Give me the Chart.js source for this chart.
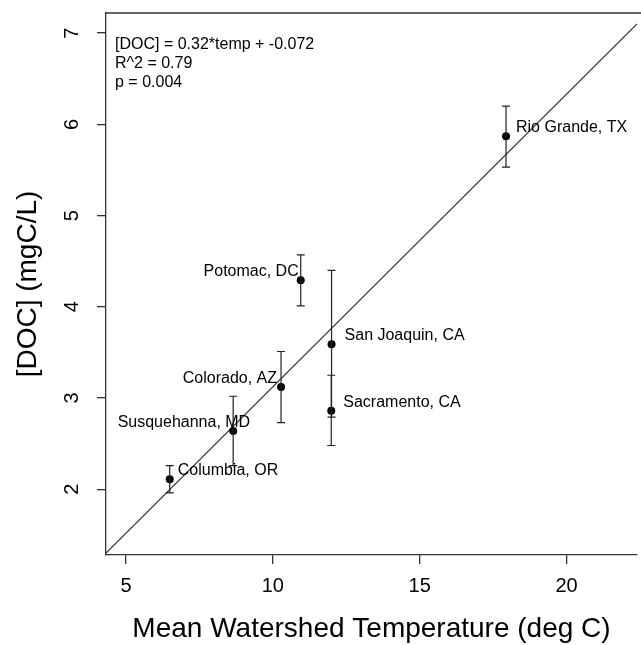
<!DOCTYPE html>
<html>
<head>
<meta charset="utf-8">
<script src="https://cdn.jsdelivr.net/npm/chart.js@4/dist/chart.umd.min.js"></script>
<style>
  html, body { margin: 0; padding: 0; background: #fff; overflow: hidden; }
  canvas { display: block; }
</style>
</head>
<body>
<canvas id="c" width="641" height="645"></canvas>
<script>
// rivers, values
const rivers = ["Columbia, OR", "Susquehanna, MD", "Colorado, AZ", "Potomac, DC",
                "San Joaquin, CA", "Sacramento, CA", "Rio Grande, TX"];
const temp   = [6.49, 8.65, 10.28, 10.95, 12.0, 11.99, 17.94];
const doc    = [2.11, 2.64, 3.12, 4.29, 3.59, 2.86, 5.87];
const docLow  = [1.96, 2.26, 2.73, 4.01, 2.79, 2.48, 5.53];
const docHigh = [2.26, 3.02, 3.51, 4.57, 4.40, 3.25, 6.20];

// regression line end points (clipped to plot area)
const fitX = [4.32, 22.4];
const fitY = [1.30, 7.10];

const xTicks = [5, 10, 15, 20];
const yTicks = [2, 3, 4, 5, 6, 7];

const statsText = ["[DOC] = 0.32*temp + -0.072", "R^2 = 0.79", "p = 0.004"];

// label placement: side and horizontal offset (px)
const labelSide = ["right", "left", "left", "left", "right", "right", "right"];
const labelDx   = [8, 17, -4, -2, 13, 12, 10];

const FONT = '"Liberation Sans", Arial, Helvetica, sans-serif';
Chart.defaults.font.family = FONT;
Chart.defaults.color = "#000";

const axisColor = "#333";

const extras = {
  id: "extras",
  afterDatasetsDraw(chart) {
    const ctx = chart.ctx;
    const xs = chart.scales.x, ys = chart.scales.y;
    const a = chart.chartArea;
    ctx.save();
    // top border of the box
    ctx.strokeStyle = axisColor;
    ctx.lineWidth = 1.3;
    ctx.beginPath();
    ctx.moveTo(a.left, a.top);
    ctx.lineTo(chart.width, a.top);
    ctx.stroke();

    // error bars
    ctx.strokeStyle = "#222";
    ctx.lineWidth = 1.2;
    for (let i = 0; i < temp.length; i++) {
      const px = xs.getPixelForValue(temp[i]);
      const lo = ys.getPixelForValue(docLow[i]);
      const hi = ys.getPixelForValue(docHigh[i]);
      ctx.beginPath();
      ctx.moveTo(px, lo); ctx.lineTo(px, hi);
      ctx.moveTo(px - 4, lo); ctx.lineTo(px + 4, lo);
      ctx.moveTo(px - 4, hi); ctx.lineTo(px + 4, hi);
      ctx.stroke();
    }

    // point labels
    ctx.fillStyle = "#000";
    ctx.font = "16px " + FONT;
    ctx.textBaseline = "middle";
    for (let i = 0; i < rivers.length; i++) {
      const px = xs.getPixelForValue(temp[i]);
      const py = ys.getPixelForValue(doc[i]);
      ctx.textAlign = labelSide[i] === "left" ? "right" : "left";
      ctx.fillText(rivers[i], px + labelDx[i], py - 8.5);
    }

    // regression stats
    ctx.textAlign = "left";
    statsText.forEach((t, k) => ctx.fillText(t, a.left + 9, a.top + 31.5 + k * 19));

    // y tick labels, rotated like R
    ctx.font = "20px " + FONT;
    ctx.textAlign = "center";
    yTicks.forEach(v => {
      const py = ys.getPixelForValue(v);
      ctx.save();
      ctx.translate(72, py);
      ctx.rotate(-Math.PI / 2);
      ctx.fillText(String(v), 0, 0);
      ctx.restore();
    });
    ctx.restore();
  }
};

new Chart(document.getElementById("c"), {
  type: "scatter",
  data: {
    datasets: [
      {
        data: temp.map((t, i) => ({ x: t, y: doc[i] })),
        backgroundColor: "#000",
        borderWidth: 0,
        pointRadius: 4,
        pointHoverRadius: 4
      },
      {
        type: "line",
        data: fitX.map((t, i) => ({ x: t, y: fitY[i] })),
        borderColor: "#333",
        borderWidth: 1.2,
        pointRadius: 0,
        fill: false
      }
    ]
  },
  options: {
    responsive: false,
    animation: false,
    events: [],
    layout: { padding: { top: 13, right: 0, left: 0, bottom: 0 } },
    plugins: { legend: { display: false }, tooltip: { enabled: false } },
    scales: {
      x: {
        type: "linear",
        min: 4.32,
        max: 22.4,
        afterBuildTicks: s => { s.ticks = xTicks.map(v => ({ value: v })); },
        afterFit: s => { s.height = 90; s.paddingLeft = 0; s.paddingRight = 0; },
        ticks: { font: { size: 20 }, padding: 10, color: "#000", autoSkip: false, maxRotation: 0 },
        grid: { display: true, drawOnChartArea: false, drawTicks: true, tickLength: 9, color: axisColor, lineWidth: 1.3 },
        border: { display: true, color: axisColor, width: 1.3 },
        title: {
          display: true,
          text: "Mean Watershed Temperature (deg C)",
          font: { size: 28, lineHeight: 1 },
          padding: { top: 0, bottom: 2 },
          color: "#000"
        }
      },
      y: {
        type: "linear",
        min: 1.28,
        max: 7.22,
        afterBuildTicks: s => { s.ticks = yTicks.map(v => ({ value: v })); },
        afterFit: s => { s.width = 106; s.paddingTop = 0; s.paddingBottom = 0; },
        ticks: { display: false },
        grid: { display: true, drawOnChartArea: false, drawTicks: true, tickLength: 9, color: axisColor, lineWidth: 1.3 },
        border: { display: true, color: axisColor, width: 1.3 },
        title: {
          display: true,
          text: "[DOC] (mgC/L)",
          font: { size: 28, lineHeight: 1 },
          padding: { top: 14, bottom: 0 },
          color: "#000"
        }
      }
    }
  },
  plugins: [extras]
});
</script>
</body>
</html>
